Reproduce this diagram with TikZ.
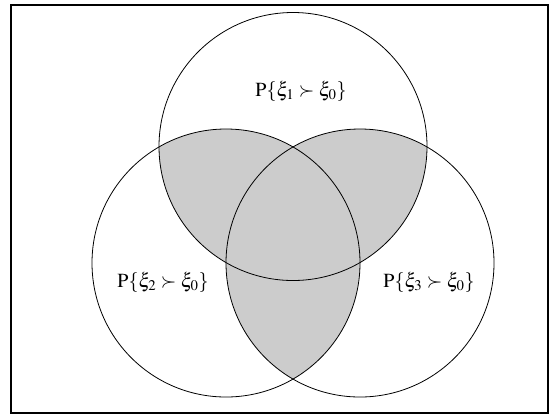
\documentclass[tikz,border=0pt]{standalone}
\usepackage{mathptmx}
\tikzset{
  conjunto/.style={draw=black, line width=0.8pt},
  sombra/.style={fill=black!20},
  etiqueta/.style={font=\fontsize{20}{24}\selectfont, inner sep=0pt}
}
\begin{document}
\begin{tikzpicture}[x=1pt, y=-1pt]
    % Marco exterior
    \useasboundingbox (0,0) rectangle (553,416);
    \fill[white] (0,0) rectangle (553,416);
    \draw[line width=1.6pt] (11,5) rectangle (548,413);

    % Centros de los conjuntos
    \coordinate (C1) at (293,146.5);
    \coordinate (C2) at (226,263);
    \coordinate (C3) at (360,263);

    % Intersecciones sombreadas
    \begin{scope}
        \clip (C1) circle[radius=134pt];
        \fill[sombra] (C2) circle[radius=134pt];
        \fill[sombra] (C3) circle[radius=134pt];
    \end{scope}
    \begin{scope}
        \clip (C2) circle[radius=134pt];
        \fill[sombra] (C3) circle[radius=134pt];
    \end{scope}

    % Circunferencias
    \draw[conjunto] (C1) circle[radius=134pt];
    \draw[conjunto] (C2) circle[radius=134pt];
    \draw[conjunto] (C3) circle[radius=134pt];

    % Etiquetas de los conjuntos
    \node[etiqueta] (E1) at (301,91) {$\mathrm{P}\{\xi_1 \succ \xi_0\}$};
    \node[etiqueta] (E2) at (163,282) {$\mathrm{P}\{\xi_2 \succ \xi_0\}$};
    \node[etiqueta] (E3) at (429,282) {$\mathrm{P}\{\xi_3 \succ \xi_0\}$};
\end{tikzpicture}
\end{document}
